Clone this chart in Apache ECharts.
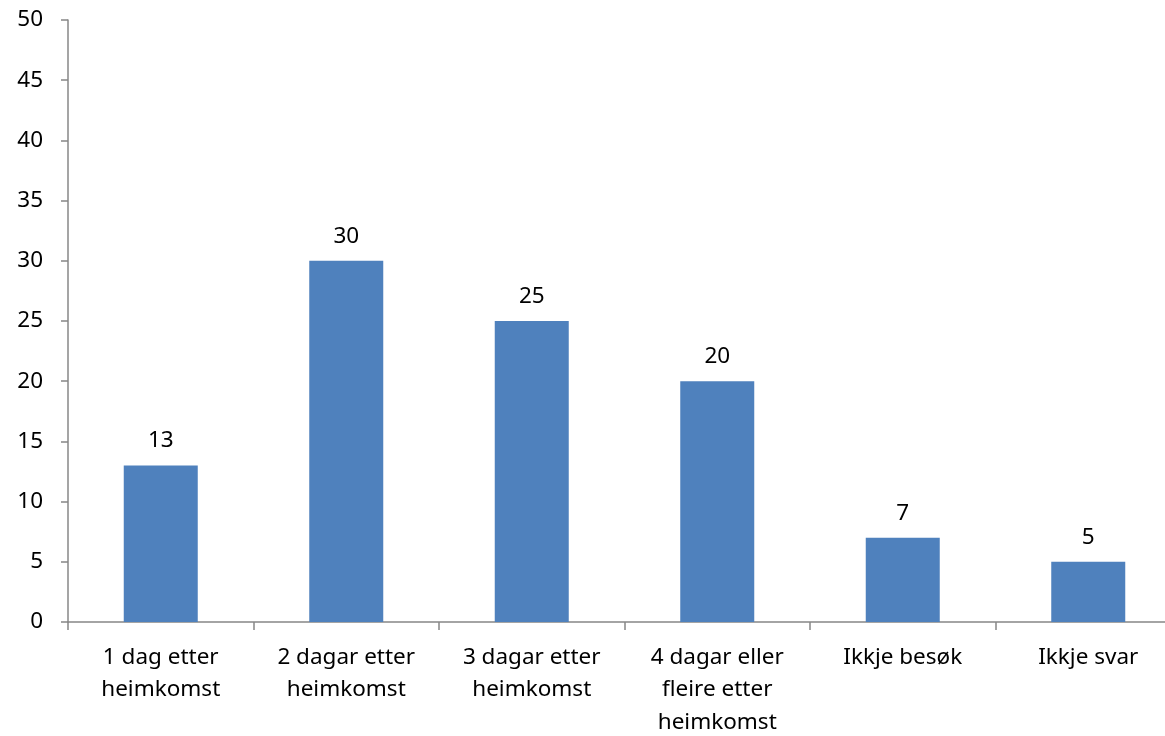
<!DOCTYPE html>
<html>
<head>
<meta charset="utf-8">
<script src="https://cdn.jsdelivr.net/npm/echarts@6/dist/echarts.min.js"></script>
<style>
html,body{margin:0;padding:0;background:#fff;}
#chart{width:1165px;height:736px;}
</style>
</head>
<body>
<div id="chart"></div>
<script>
var categories = ["1 dag etter\nheimkomst", "2 dagar etter\nheimkomst", "3 dagar etter\nheimkomst", "4 dagar eller\nfleire etter\nheimkomst", "Ikkje besøk", "Ikkje svar"];
var values = [13, 30, 25, 20, 7, 5];
var yTicks = { min: 0, max: 50, interval: 5 };

var chart = echarts.init(document.getElementById('chart'));
var font = '"Noto Sans", "Open Sans", sans-serif';
chart.setOption({
  animation: false,
  backgroundColor: '#ffffff',
  grid: { left: 68, top: 20, width: 1113, height: 602, containLabel: false, outerBoundsMode: 'none' },
  xAxis: {
    type: 'category',
    data: categories,
    axisLine: { lineStyle: { color: '#878787', width: 1.5 } },
    axisTick: { show: true, length: 8, alignWithLabel: false, lineStyle: { color: '#878787', width: 1.5 } },
    axisLabel: { color: '#000', fontSize: 22.5, fontFamily: font, lineHeight: 32.5, margin: 19, interval: 0 },
    splitLine: { show: false }
  },
  yAxis: {
    type: 'value',
    min: yTicks.min, max: yTicks.max, interval: yTicks.interval,
    axisLine: { show: true, lineStyle: { color: '#878787', width: 1.5 } },
    axisTick: { show: true, length: 7, lineStyle: { color: '#878787', width: 1.5 } },
    axisLabel: { color: '#000', fontSize: 22.5, fontFamily: font, margin: 25 },
    splitLine: { show: false }
  },
  series: [{
    type: 'bar',
    data: values,
    barWidth: 74,
    itemStyle: { color: '#4F81BD' },
    label: { show: true, position: 'top', distance: 13, color: '#000', fontSize: 22.5, fontFamily: font }
  }]
});
</script>
</body>
</html>
